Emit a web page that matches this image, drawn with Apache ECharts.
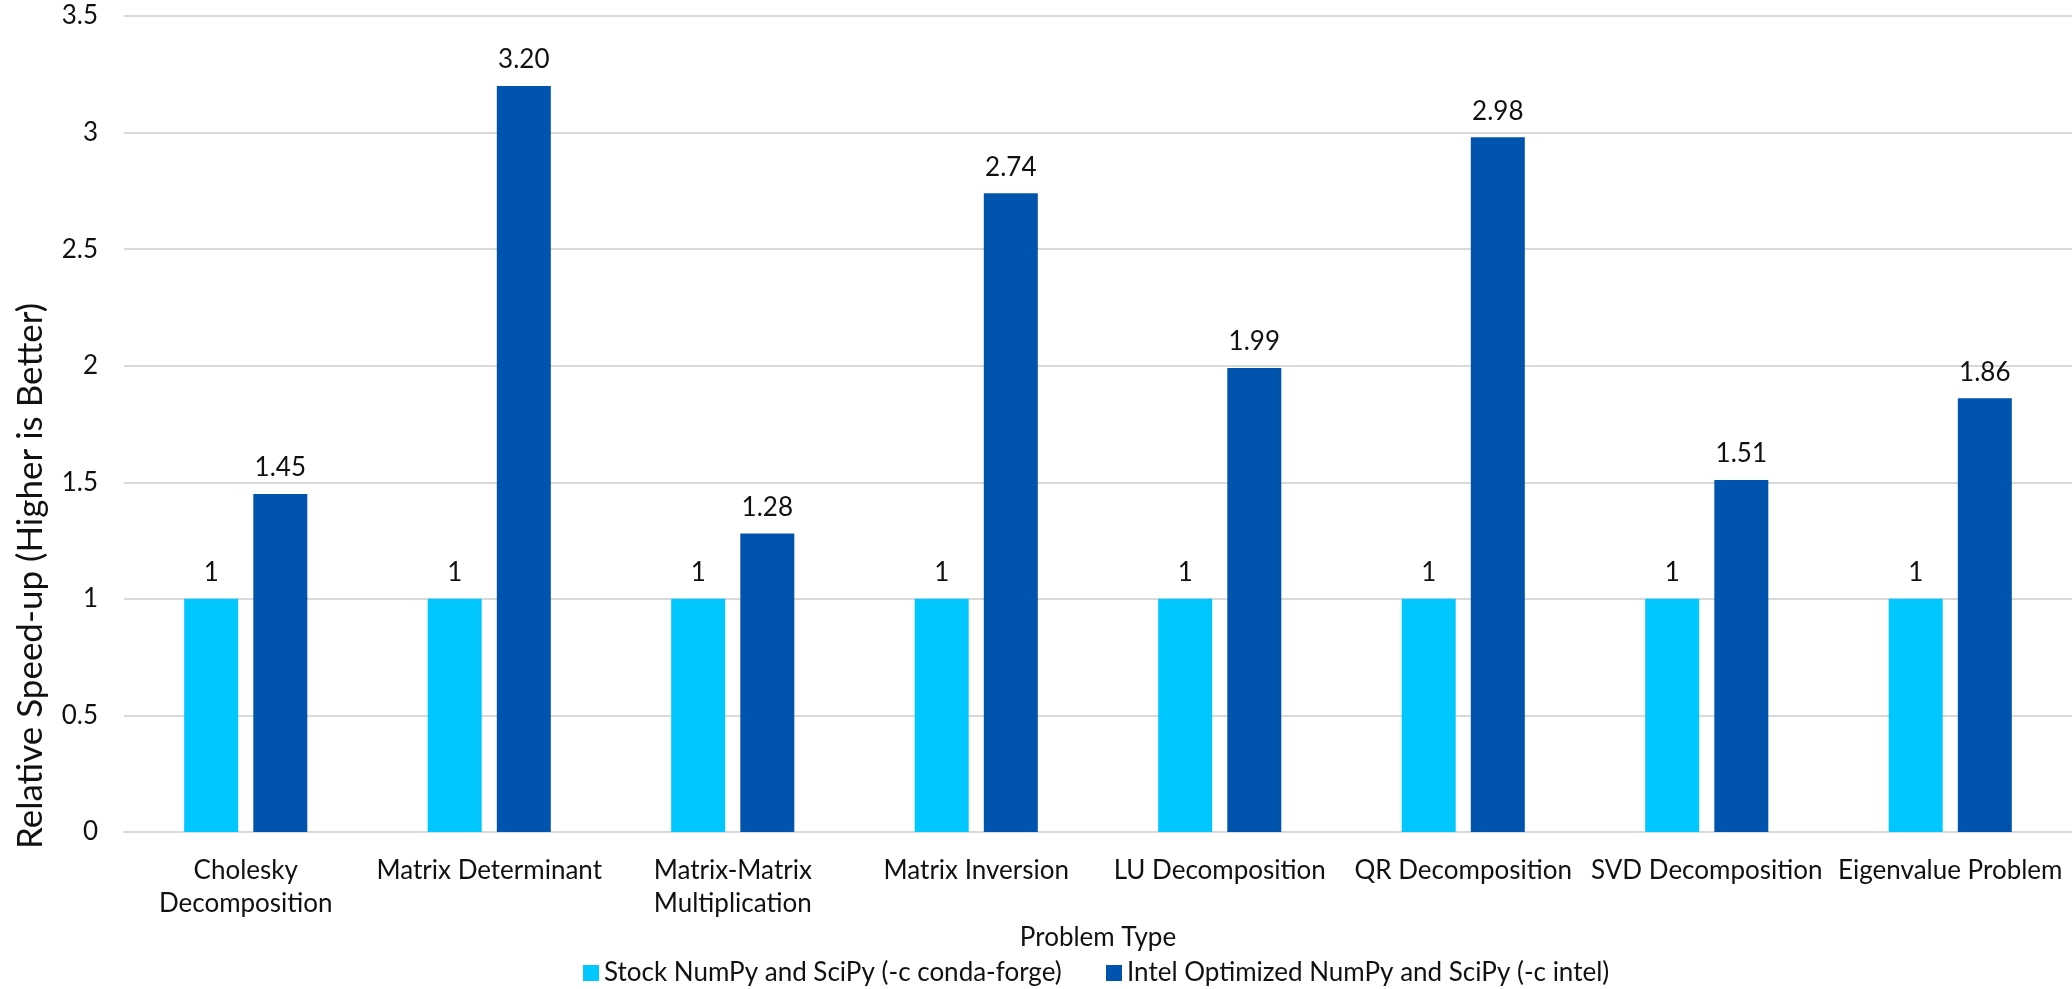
<!DOCTYPE html>
<html lang="en">
<head>
    <meta charset="UTF-8">
    <title>Relative Speed-up</title>
    <style>
        html, body { margin: 0; padding: 0; background: #fff; }
        .chart { width: 2072px; height: 989px; }
    </style>
</head>
<body>
<div class="chart" id="showData"></div>
<script src="https://cdn.jsdelivr.net/npm/echarts@6/dist/echarts.min.js"></script>
<script>
    var categories = [
        'Cholesky\nDecomposition',
        'Matrix Determinant',
        'Matrix-Matrix\nMultiplication',
        'Matrix Inversion',
        'LU Decomposition',
        'QR Decomposition',
        'SVD Decomposition',
        'Eigenvalue Problem'
    ];
    var stockName = 'Stock NumPy and SciPy (-c conda-forge)';
    var intelName = 'Intel Optimized NumPy and SciPy (-c intel)';
    var stockData = [1, 1, 1, 1, 1, 1, 1, 1];
    var intelData = [1.45, 3.20, 1.28, 2.74, 1.99, 2.98, 1.51, 1.86];
    var yTicks = { min: 0, max: 3.5, interval: 0.5 };

    var font = 'Lato, "Open Sans", sans-serif';
    var ink = '#111';
    var gridColor = '#d9d9d9';

    var option = {
        animation: false,
        textStyle: { fontFamily: font, color: ink },
        grid: { left: 124, right: 0, top: 16, bottom: 157, containLabel: false },
        legend: [
            {
                data: [stockName], left: 583, top: 960, padding: 0,
                icon: 'rect', itemWidth: 16, itemHeight: 16,
                textStyle: { fontFamily: font, fontSize: 26, color: ink }
            },
            {
                data: [intelName], left: 1106, top: 960, padding: 0,
                icon: 'rect', itemWidth: 16, itemHeight: 16,
                textStyle: { fontFamily: font, fontSize: 26, color: ink }
            }
        ],
        graphic: [{
            type: 'text',
            x: 31, y: 576,
            rotation: Math.PI / 2,
            style: {
                text: 'Relative Speed-up (Higher is Better)',
                font: '35px ' + font,
                fill: ink,
                align: 'center',
                verticalAlign: 'middle'
            }
        }],
        xAxis: {
            type: 'category',
            data: categories,
            name: 'Problem Type',
            nameLocation: 'middle',
            nameGap: 83,
            nameTextStyle: { fontFamily: font, fontSize: 26, color: ink },
            axisTick: { show: false },
            axisLine: { lineStyle: { color: gridColor, width: 2 } },
            axisLabel: {
                interval: 0, margin: 22, fontSize: 26, lineHeight: 33,
                color: ink, fontFamily: font
            }
        },
        yAxis: {
            type: 'value',
            min: yTicks.min,
            max: yTicks.max,
            interval: yTicks.interval,
            axisLine: { show: false },
            axisTick: { show: false },
            splitLine: { lineStyle: { color: gridColor, width: 2 } },
            axisLabel: { margin: 26, fontSize: 26, color: ink, fontFamily: font }
        },
        series: [
            {
                name: stockName,
                type: 'bar',
                data: stockData,
                barWidth: 54,
                barGap: '28%',
                itemStyle: { color: '#00C7FD' },
                label: {
                    show: true, position: 'top', distance: 13,
                    fontSize: 26, color: ink, fontFamily: font
                }
            },
            {
                name: intelName,
                type: 'bar',
                data: intelData,
                barWidth: 54,
                itemStyle: { color: '#0054AE' },
                label: {
                    show: true, position: 'top', distance: 13,
                    fontSize: 26, color: ink, fontFamily: font,
                    formatter: function (p) { return p.value.toFixed(2); }
                }
            }
        ]
    };

    var mychart = echarts.init(document.getElementById('showData'));
    mychart.setOption(option);
</script>
</body>
</html>
